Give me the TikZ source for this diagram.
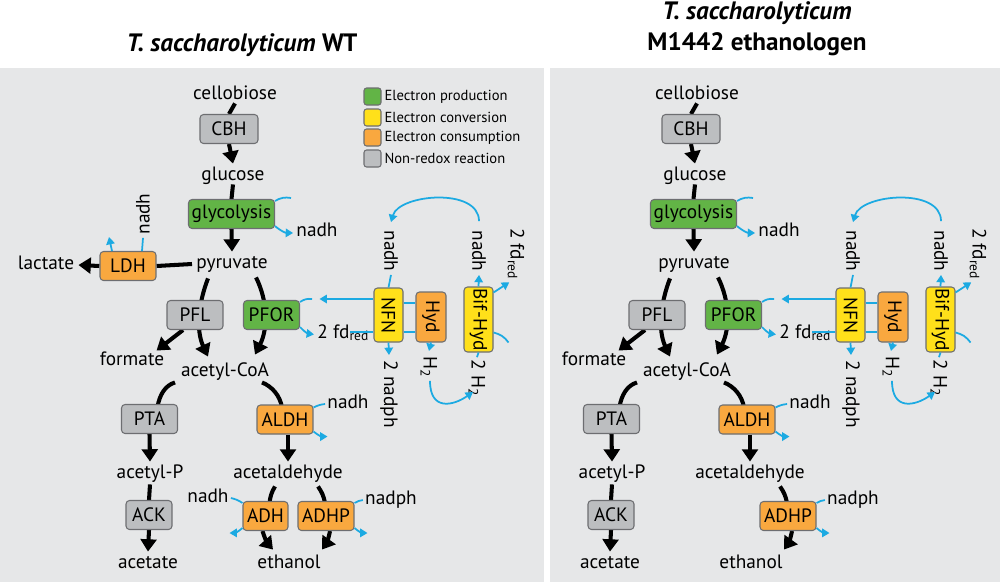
\documentclass[tikz,border=0pt]{standalone}
\usepackage{fontspec}
\setmainfont{PT Sans}
\usepackage{graphicx}
\usetikzlibrary{arrows.meta,positioning}

\definecolor{panelgray}{HTML}{E6E7E8}
\definecolor{nonredoxgray}{HTML}{BCBEC0}
\definecolor{eprodgreen}{HTML}{62B446}
\definecolor{econvyellow}{HTML}{FFE01A}
\definecolor{econsorange}{HTML}{F9A83F}
\definecolor{carrierblue}{HTML}{1CAAE2}
\definecolor{boxline}{HTML}{6D6E71}

\pgfdeclarelayer{panel}
\pgfdeclarelayer{fluxes}
\pgfsetlayers{panel,fluxes,main}

\tikzset{
  met/.style={inner sep=0pt, text height=0.72em, text depth=0.2em, font=\fontsize{11}{13}\selectfont},
  rotlab/.style={inner sep=0pt, font=\fontsize{11}{13}\selectfont},
  enz/.style={draw=boxline, line width=0.6pt, rounded corners=2pt, inner sep=0pt,
    minimum width=1.12cm, minimum height=0.58cm, font=\fontsize{11}{13}\selectfont},
  nonredox/.style={enz, fill=nonredoxgray},
  eprod/.style={enz, fill=eprodgreen},
  econv/.style={enz, fill=econvyellow},
  econs/.style={enz, fill=econsorange},
  flux/.style={line width=2.3pt, -{Triangle[width=9pt,length=7pt]}},
  fluxline/.style={line width=2.3pt},
  elec/.style={carrierblue, line width=1pt},
  elecarr/.style={elec, -{Triangle[width=4.8pt,length=4.2pt]}},
  legbox/.style={draw=boxline, line width=0.6pt, rounded corners=1.5pt, minimum size=0.34cm, inner sep=0pt},
  legtext/.style={inner sep=0pt, font=\fontsize{8.3}{10}\selectfont},
  paneltitle/.style={inner sep=0pt, align=center, font=\bfseries\fontsize{14.3}{17.6}\selectfont},
}

% pathway shared by both strains
\newcommand{\tsacpathway}{%
  % metabolites
  \node[met] (cello) at (235,95) {cellobiose};
  \node[met] (glc) at (233,176) {glucose};
  \node[met] (pyr) at (232,264) {pyruvate};
  \node[met] (frm) at (132,361) {formate};
  \node[met] (acoa) at (225,372) {acetyl-CoA};
  \node[met] (acp) at (150,474) {acetyl-P};
  \node[met] (ace) at (148,564) {acetate};
  \node[met] (ald) at (288,474) {acetaldehyde};
  \node[met] (etoh) at (289,564) {ethanol};
  % enzymes
  \node[nonredox,minimum width=1.16cm] (cbh) at (229,129) {CBH};
  \node[eprod,minimum width=1.72cm] (glyc) at (231.5,214) {glycolysis};
  \node[nonredox] (pfl) at (195,315) {PFL};
  \node[eprod] (pfor) at (271.5,315) {PFOR};
  \node[nonredox] (pta) at (149.5,419) {PTA};
  \node[econs] (aldh) at (285,419.5) {ALDH};
  \node[nonredox,minimum width=0.92cm] (ack) at (149,515) {ACK};
  \node[econs] (adhp) at (326,516) {ADHP};
  \node[econv,minimum width=0.58cm,minimum height=1.08cm] (nfn) at (388.5,315) {\rotatebox{-90}{NFN}};
  \node[econs,minimum width=0.6cm,minimum height=1cm] (hyd) at (431,317) {\rotatebox{-90}{Hyd}};
  \node[econv,minimum width=0.58cm,minimum height=1.3cm] (bif) at (478.5,319.5) {\rotatebox{-90}{Bif-Hyd}};
  % cofactors
  \node[met] (gnadh) at (317,232) {nadh};
  \node[met,anchor=base west] (pfdred) at (317,338) {2 fd\textsubscript{red}};
  \node[met] (anadh) at (348,404) {nadh};
  \node[met] (nadph) at (391,500) {nadph};
  \node[rotlab] (nnadh) at (391,251) {\rotatebox{-90}{nadh}};
  \node[rotlab] (bnadh) at (479,251) {\rotatebox{-90}{nadh}};
  \node[rotlab] (bfd) at (516,254) {\rotatebox{-90}{2 fd\textsubscript{red}}};
  \node[rotlab] (nadph2) at (389,394) {\rotatebox{-90}{2 nadph}};
  \node[rotlab] (hh) at (429,367) {\rotatebox{-90}{H\textsubscript{2}}};
  \node[rotlab] (bhh) at (477,378) {\rotatebox{-90}{2 H\textsubscript{2}}};

  \begin{pgfonlayer}{fluxes}
    \draw[fluxline] (cello.south) -- (cbh.north);
    \draw[flux] (cbh.south) -- ([shift={(0,-4)}]glc.north);
    \draw[fluxline] (glc.south) -- (glyc.north);
    \draw[flux] (glyc.south) -- ([shift={(0,-4)}]pyr.north);
    \draw[flux] ([shift={(-24,6)}]pyr.south) .. controls +(-10,26) and +(-12,-26) .. ([shift={(-17,-7)}]acoa.north);
    \draw[flux] ([shift={(24,5)}]pyr.south) .. controls +(12,24) and +(13,-26) .. ([shift={(30,-9)}]acoa.north);
    \draw[flux] ([shift={(-12,0)}]pfl.south) -- ([shift={(-8,-2)}]frm.north east);
    \draw[fluxline] ([shift={(-50,2)}]acoa.south) .. controls +(-10,3) and +(2,-12) .. ([shift={(8,3)}]pta.north);
    \draw[fluxline] ([shift={(37,2)}]acoa.south) .. controls +(10,4) and +(-2,-12) .. ([shift={(-3,3)}]aldh.north);
    \draw[flux] (pta.south) -- ([shift={(0,-4)}]acp.north);
    \draw[fluxline] ([shift={(0,2)}]acp.south) -- (ack.north);
    \draw[flux] (ack.south) -- ([shift={(0,-4)}]ace.north);
    \draw[flux] ([shift={(3,0)}]aldh.south) -- ([shift={(0,-4)}]ald.north);
    \draw[fluxline] ([shift={(30,4)}]ald.south) to[bend left=12] ([shift={(-1,2)}]adhp.north);
    \draw[flux] ([shift={(4,0)}]adhp.south) to[bend left=12] ([shift={(33,-6)}]etoh.north);
  \end{pgfonlayer}

  % electron carriers
  \draw[elec] ([shift={(0,2)}]glyc.north east) to[bend left=20] ++(16,-3);
  \draw[elecarr] ([shift={(0,-3)}]glyc.south east) to[bend right=20] ([shift={(-3,1)}]gnadh.west);
  \draw[elec] ([shift={(0,2)}]pfor.north east) to[bend left=20] ++(12,-3);
  \draw[elecarr] ([shift={(0,-3)}]pfor.south east) to[bend right=20] ([shift={(-3,1)}]pfdred.west);
  \draw[elecarr] ([shift={(0,-16)}]nfn.west) -- ++(-54,0);
  \draw[elec] ([shift={(0,17)}]nfn.west) -- ++(-23,0);
  \draw[elec] ([shift={(0,-12)}]nfn.east) -- ([shift={(0,-14)}]hyd.west);
  \draw[elec] ([shift={(0,17)}]nfn.east) -- ([shift={(0,15)}]hyd.west);
  \draw[elec] ([shift={(0,3)}]nnadh.south) -- (nfn.north);
  \draw[elecarr] (nfn.south) -- ([shift={(0,-5)}]nadph2.north);
  \draw[elecarr] (hyd.south) -- ([shift={(0,-5)}]hh.north);
  \draw[elecarr] ([shift={(1,3)}]hh.south) .. controls +(0,30) and +(-20,14) .. ([shift={(-4,14)}]bhh.center);
  \draw[elec] (bif.south) -- ([shift={(0,-2)}]bhh.north);
  \draw[elecarr] (bif.north) -- ([shift={(0,3)}]bnadh.south);
  \draw[elecarr] ([shift={(0,6)}]bif.north east) -- ([shift={(2,2)}]bfd.south west);
  \draw[elec] ([shift={(0,13)}]bif.east) to[bend left=20] ++(15,10);
  \draw[elecarr] ([shift={(0,-9)}]bnadh.north) .. controls +(0,-34) and +(8,-28) .. ([shift={(0,-8)}]nnadh.north);
  \draw[elec] ([shift={(-2,0)}]anadh.west) to[bend right=10] ([shift={(0,3)}]aldh.north east);
  \draw[elecarr] ([shift={(0,-3)}]aldh.south east) to[bend right=20] ++(14,5);
  \draw[elec] ([shift={(-2,0)}]nadph.west) to[bend right=10] ([shift={(0,2)}]adhp.north east);
  \draw[elecarr] ([shift={(0,-3)}]adhp.south east) to[bend right=20] ++(13,5);
}

\begin{document}
\begin{tikzpicture}[x=0.02cm,y=-0.02cm]
  \useasboundingbox (0,0) rectangle (1000,582);
  \begin{pgfonlayer}{panel}
    \fill[panelgray] (0,68) rectangle (544,582);
    \fill[panelgray] (550,68) rectangle (1000,582);
  \end{pgfonlayer}

  \node[paneltitle] (wttitle) at (242,45) {\textit{T. saccharolyticum} WT};
  \node[paneltitle] (ettitle) at (757,29) {\textit{T. saccharolyticum}\\M1442 ethanologen};

  % wild type
  \begin{scope}[name prefix=wt-]
    \tsacpathway
    \node[econs] (ldh) at (128,266) {LDH};
    \node[met] (lac) at (46,265) {lactate};
    \node[rotlab] (lnadh) at (143,214) {\rotatebox{90}{nadh}};
    \node[econs,minimum width=0.9cm] (adh) at (265.5,516) {ADH};
    \node[met] (adhnadh) at (208,498) {nadh};
    \begin{pgfonlayer}{fluxes}
      \draw[fluxline] ([shift={(-4,0)}]pyr.west) -- (ldh.east);
      \draw[flux] (ldh.west) -- ([shift={(4,0)}]lac.east);
      \draw[fluxline] ([shift={(-13,4)}]ald.south) to[bend right=12] ([shift={(4,2)}]adh.north);
      \draw[flux] ([shift={(-3,0)}]adh.south) to[bend right=12] ([shift={(-16,-6)}]etoh.north);
    \end{pgfonlayer}
    \draw[elec] ([shift={(0,3)}]lnadh.south) -- ([shift={(14,0)}]ldh.north);
    \draw[elecarr] ([shift={(-16,0)}]ldh.north) -- ++(-3,-14);
    \draw[elec] ([shift={(2,0)}]adhnadh.east) to[bend left=10] ([shift={(0,2)}]adh.north west);
    \draw[elecarr] ([shift={(0,-3)}]adh.south west) to[bend left=20] ++(-13,5);

    % legend
    \node[legbox,fill=eprodgreen] (legprod) at (372.5,96.5) {};
    \node[legbox,fill=econvyellow] (legconv) at (372.5,117.5) {};
    \node[legbox,fill=econsorange] (legcons) at (372.5,137.5) {};
    \node[legbox,fill=nonredoxgray] (legnon) at (372.5,158.5) {};
    \node[legtext,right=1.5pt of legprod] {Electron production};
    \node[legtext,right=1.5pt of legconv] {Electron conversion};
    \node[legtext,right=1.5pt of legcons] {Electron consumption};
    \node[legtext,right=1.5pt of legnon] {Non-redox reaction};
  \end{scope}

  % ethanologen
  \begin{scope}[shift={(462,0)},name prefix=et-]
    \tsacpathway
  \end{scope}
\end{tikzpicture}
\end{document}
